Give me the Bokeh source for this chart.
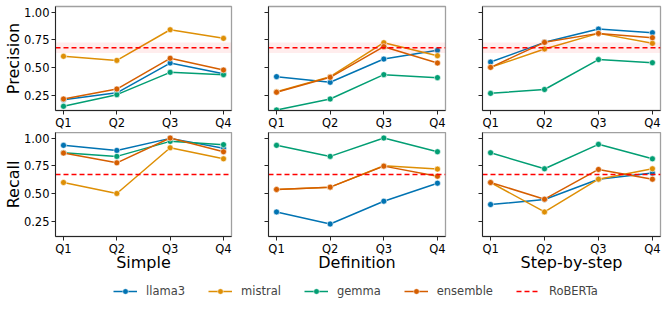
from bokeh.plotting import figure
from bokeh.layouts import column, row
from bokeh.models import (Range1d, FixedTicker, Legend, LegendItem, BoxAnnotation,
                          NumeralTickFormatter)
from bokeh.embed import file_html
from bokeh.resources import INLINE

quarters = ["Q1", "Q2", "Q3", "Q4"]
prompts = ["Simple", "Definition", "Step-by-step"]
metrics = ["Precision", "Recall"]
models = ["llama3", "mistral", "gemma", "ensemble"]
colors = ["#0173b2", "#de8f05", "#029e73", "#d55e00"]

# Precision
prec_simple = {
    "llama3":   [0.208, 0.270, 0.539, 0.443],
    "mistral":  [0.600, 0.563, 0.840, 0.762],
    "gemma":    [0.148, 0.253, 0.455, 0.434],
    "ensemble": [0.214, 0.304, 0.582, 0.476],
}
prec_definition = {
    "llama3":   [0.416, 0.365, 0.575, 0.654],
    "mistral":  [0.280, 0.416, 0.723, 0.605],
    "gemma":    [0.115, 0.214, 0.434, 0.407],
    "ensemble": [0.275, 0.410, 0.687, 0.539],
}
prec_step = {
    "llama3":   [0.548, 0.726, 0.846, 0.813],
    "mistral":  [0.500, 0.666, 0.807, 0.717],
    "gemma":    [0.265, 0.300, 0.570, 0.542],
    "ensemble": [0.500, 0.726, 0.807, 0.768],
}
# Recall
rec_simple = {
    "llama3":   [0.934, 0.888, 0.997, 0.907],
    "mistral":  [0.598, 0.499, 0.912, 0.812],
    "gemma":    [0.867, 0.834, 0.970, 0.940],
    "ensemble": [0.864, 0.776, 1.000, 0.876],
}
rec_definition = {
    "llama3":   [0.332, 0.223, 0.429, 0.592],
    "mistral":  [0.535, 0.556, 0.750, 0.719],
    "gemma":    [0.934, 0.834, 1.000, 0.876],
    "ensemble": [0.535, 0.556, 0.746, 0.655],
}
rec_step = {
    "llama3":   [0.399, 0.444, 0.628, 0.683],
    "mistral":  [0.598, 0.332, 0.628, 0.722],
    "gemma":    [0.867, 0.722, 0.943, 0.812],
    "ensemble": [0.598, 0.447, 0.716, 0.628],
}

roberta_precision = 0.678
roberta_precision_band = [0.630, 0.725]
roberta_recall = 0.670

y_ticks = [0.25, 0.50, 0.75, 1.00]

panels = [[prec_simple, prec_definition, prec_step],
          [rec_simple, rec_definition, rec_step]]
roberta = [roberta_precision, roberta_recall]

FONT = "DejaVu Sans"
xs = list(range(len(quarters)))

left_b = [55, 35, 35]
right_b = [2, 2, 3]
frame_w = [176, 177, 178]
top_b = [6, 0]
bottom_b = [21, 38]


def make_fig(r, c):
    p = figure(frame_width=frame_w[c], frame_height=104,
               min_border_left=left_b[c], min_border_right=right_b[c],
               min_border_top=top_b[r], min_border_bottom=bottom_b[r],
               x_range=Range1d(-0.15, 3.15), y_range=Range1d(0.11, 1.05),
               output_backend="svg", toolbar_location=None)
    p.xgrid.grid_line_color = None
    p.ygrid.grid_line_color = None
    p.outline_line_color = "#a0a0a0"
    p.outline_line_width = 1.3
    p.background_fill_color = "white"
    p.border_fill_color = "white"
    for ax in (p.xaxis[0], p.yaxis[0]):
        ax.axis_line_color = "#262626"
        ax.axis_line_width = 1.0
        ax.major_tick_line_color = "#262626"
        ax.major_tick_out = 4
        ax.major_tick_in = 0
        ax.minor_tick_line_color = None
        ax.major_label_text_font = FONT
        ax.major_label_text_font_size = "11.5px"
        ax.major_label_text_color = "black"
        ax.axis_label_text_font = FONT
        ax.axis_label_text_font_size = "16px"
        ax.axis_label_text_font_style = "normal"
        ax.axis_label_text_color = "black"
    p.xaxis.major_label_standoff = 1
    p.yaxis.major_label_standoff = 2
    p.xaxis.ticker = FixedTicker(ticks=xs)
    p.xaxis.major_label_overrides = {i: q for i, q in zip(xs, quarters)}
    p.yaxis.ticker = FixedTicker(ticks=y_ticks)
    if c == 0:
        p.yaxis.formatter = NumeralTickFormatter(format="0.00")
        p.yaxis.axis_label = metrics[r]
        p.yaxis.axis_label_standoff = -2
    else:
        p.yaxis.major_label_overrides = {t: "" for t in y_ticks}
    if r == 1:
        p.xaxis.axis_label = prompts[c]
        p.xaxis.axis_label_standoff = -6

    if r == 0:
        p.add_layout(BoxAnnotation(bottom=roberta_precision_band[0], top=roberta_precision_band[1],
                                   fill_color="red", fill_alpha=0.07, line_color=None))
    data = panels[r][c]
    for m, col in zip(models, colors):
        p.line(xs, data[m], line_color=col, line_width=1.5)
        p.scatter(xs, data[m], size=6, fill_color=col, line_color="white", line_width=0.6)
    p.line([-0.15, 3.15], [roberta[r], roberta[r]], line_color="red", line_width=1.5, line_dash="5 3")
    return p


rows = []
for r in range(2):
    rows.append(row(*[make_fig(r, c) for c in range(3)]))

# legend strip: renderers reuse series data but lie outside this strip's ranges
lg = figure(width=661, height=37, x_axis_type=None, y_axis_type=None,
            output_backend="svg", toolbar_location=None, min_border=0,
            x_range=Range1d(100, 101), y_range=Range1d(100, 101))
lg.outline_line_color = None
lg.xgrid.grid_line_color = None
lg.ygrid.grid_line_color = None
items = []
for m, col in zip(models, colors):
    l1 = lg.line(xs, rec_simple[m], line_color=col, line_width=1.5)
    s1 = lg.scatter(xs, rec_simple[m], size=5, fill_color=col, line_color="white", line_width=0.5)
    items.append(LegendItem(label=m, renderers=[l1, s1]))
lr = lg.line(xs, [roberta_recall] * len(xs), line_color="red", line_width=1.5, line_dash="5 3")
items.append(LegendItem(label="RoBERTa", renderers=[lr]))
legend = Legend(items=items, orientation="horizontal", location=(113, 13),
                padding=0, margin=0, spacing=23, glyph_width=24, glyph_height=14,
                label_height=14, label_standoff=9, label_text_font=FONT,
                label_text_font_size="11.5px", border_line_color=None,
                background_fill_alpha=0)
lg.add_layout(legend, "center")

layout = column(rows[0], rows[1], lg)
open("out.html", "w").write(file_html(layout, INLINE))
